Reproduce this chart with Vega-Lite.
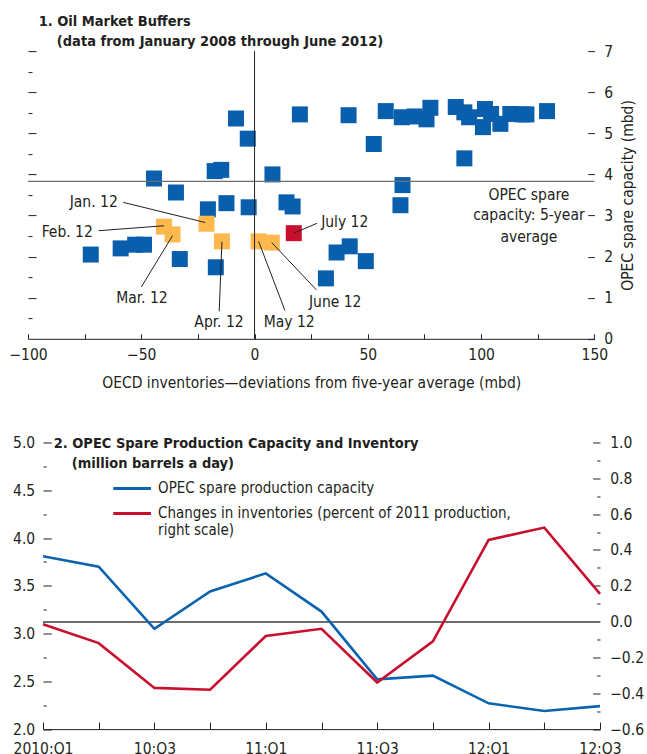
{
  "$schema": "https://vega.github.io/schema/vega-lite/v6.json",
  "padding": {"left": 8, "top": 13.1, "right": 5, "bottom": 5},
  "background": "white",
  "bounds": "flush",
  "spacing": 103.4,
  "resolve": {"scale": {"color": "independent"}, "legend": {"color": "independent"}},
  "datasets": {
    "points": [
      {"inv": -8.2, "cap": 5.36, "period": "Jan 2008–Dec 2011"},
      {"inv": 20.0, "cap": 5.46, "period": "Jan 2008–Dec 2011"},
      {"inv": -3.0, "cap": 4.87, "period": "Jan 2008–Dec 2011"},
      {"inv": -17.6, "cap": 4.08, "period": "Jan 2008–Dec 2011"},
      {"inv": -14.7, "cap": 4.11, "period": "Jan 2008–Dec 2011"},
      {"inv": -44.4, "cap": 3.90, "period": "Jan 2008–Dec 2011"},
      {"inv": 7.9, "cap": 4.00, "period": "Jan 2008–Dec 2011"},
      {"inv": -34.7, "cap": 3.56, "period": "Jan 2008–Dec 2011"},
      {"inv": -20.6, "cap": 3.15, "period": "Jan 2008–Dec 2011"},
      {"inv": -12.4, "cap": 3.30, "period": "Jan 2008–Dec 2011"},
      {"inv": -2.6, "cap": 3.20, "period": "Jan 2008–Dec 2011"},
      {"inv": 14.1, "cap": 3.32, "period": "Jan 2008–Dec 2011"},
      {"inv": 16.8, "cap": 3.22, "period": "Jan 2008–Dec 2011"},
      {"inv": -72.3, "cap": 2.05, "period": "Jan 2008–Dec 2011"},
      {"inv": -59.1, "cap": 2.20, "period": "Jan 2008–Dec 2011"},
      {"inv": -52.7, "cap": 2.29, "period": "Jan 2008–Dec 2011"},
      {"inv": -48.8, "cap": 2.29, "period": "Jan 2008–Dec 2011"},
      {"inv": -33.0, "cap": 1.94, "period": "Jan 2008–Dec 2011"},
      {"inv": -17.1, "cap": 1.74, "period": "Jan 2008–Dec 2011"},
      {"inv": 41.5, "cap": 5.44, "period": "Jan 2008–Dec 2011"},
      {"inv": 57.9, "cap": 5.54, "period": "Jan 2008–Dec 2011"},
      {"inv": 52.6, "cap": 4.74, "period": "Jan 2008–Dec 2011"},
      {"inv": 65.0, "cap": 5.39, "period": "Jan 2008–Dec 2011"},
      {"inv": 70.6, "cap": 5.41, "period": "Jan 2008–Dec 2011"},
      {"inv": 75.9, "cap": 5.34, "period": "Jan 2008–Dec 2011"},
      {"inv": 77.6, "cap": 5.62, "period": "Jan 2008–Dec 2011"},
      {"inv": 88.8, "cap": 5.64, "period": "Jan 2008–Dec 2011"},
      {"inv": 92.6, "cap": 5.51, "period": "Jan 2008–Dec 2011"},
      {"inv": 94.7, "cap": 5.39, "period": "Jan 2008–Dec 2011"},
      {"inv": 101.7, "cap": 5.59, "period": "Jan 2008–Dec 2011"},
      {"inv": 100.8, "cap": 5.15, "period": "Jan 2008–Dec 2011"},
      {"inv": 104.4, "cap": 5.47, "period": "Jan 2008–Dec 2011"},
      {"inv": 108.5, "cap": 5.23, "period": "Jan 2008–Dec 2011"},
      {"inv": 112.9, "cap": 5.47, "period": "Jan 2008–Dec 2011"},
      {"inv": 118.2, "cap": 5.46, "period": "Jan 2008–Dec 2011"},
      {"inv": 120.0, "cap": 5.46, "period": "Jan 2008–Dec 2011"},
      {"inv": 129.1, "cap": 5.54, "period": "Jan 2008–Dec 2011"},
      {"inv": 92.6, "cap": 4.39, "period": "Jan 2008–Dec 2011"},
      {"inv": 65.3, "cap": 3.74, "period": "Jan 2008–Dec 2011"},
      {"inv": 64.4, "cap": 3.25, "period": "Jan 2008–Dec 2011"},
      {"inv": 36.2, "cap": 2.10, "period": "Jan 2008–Dec 2011"},
      {"inv": 42.0, "cap": 2.25, "period": "Jan 2008–Dec 2011"},
      {"inv": 49.1, "cap": 1.89, "period": "Jan 2008–Dec 2011"},
      {"inv": 31.5, "cap": 1.47, "period": "Jan 2008–Dec 2011"},
      {"inv": -21.2, "cap": 2.80, "period": "Jan–Jun 2012"},
      {"inv": -40.0, "cap": 2.73, "period": "Jan–Jun 2012"},
      {"inv": -36.2, "cap": 2.54, "period": "Jan–Jun 2012"},
      {"inv": -14.4, "cap": 2.37, "period": "Jan–Jun 2012"},
      {"inv": 1.8, "cap": 2.37, "period": "Jan–Jun 2012"},
      {"inv": 7.6, "cap": 2.34, "period": "Jan–Jun 2012"},
      {"inv": 17.3, "cap": 2.57, "period": "Jul 2012"}
    ],
    "callouts": [
      {"label": "Jan. 12", "lx": -59.5, "ly": 3.33, "ax": -58.0, "ay": 3.32, "px": -21.8, "py": 2.83},
      {"label": "Feb. 12", "lx": -70.5, "ly": 2.60, "ax": -68.8, "ay": 2.63, "px": -40.0, "py": 2.75},
      {"label": "Mar. 12", "lx": -49.7, "ly": 1.00, "ax": -50.0, "ay": 1.26, "px": -36.2, "py": 2.51},
      {"label": "Apr. 12", "lx": -15.7, "ly": 0.40, "ax": -15.6, "ay": 0.67, "px": -14.4, "py": 2.36},
      {"label": "May 12", "lx": 15.3, "ly": 0.40, "ax": 13.4, "ay": 0.69, "px": 1.8, "py": 2.37},
      {"label": "June 12", "lx": 35.6, "ly": 0.89, "ax": 27.3, "ay": 1.19, "px": 7.6, "py": 2.34},
      {"label": "July 12", "lx": 28.5, "ly": 2.84, "ax": 27.6, "ay": 2.81, "px": 17.3, "py": 2.57}
    ],
    "note": [
      {"label": "OPEC spare", "lx": 121.1, "ly": 3.49},
      {"label": "capacity: 5-year", "lx": 121.1, "ly": 3.00},
      {"label": "average", "lx": 121.1, "ly": 2.47}
    ],
    "quarters": [
      {"quarter": "2010:Q1", "series": "OPEC spare production capacity", "value": 3.81},
      {"quarter": "10:Q2", "series": "OPEC spare production capacity", "value": 3.70},
      {"quarter": "10:Q3", "series": "OPEC spare production capacity", "value": 3.05},
      {"quarter": "10:Q4", "series": "OPEC spare production capacity", "value": 3.44},
      {"quarter": "11:Q1", "series": "OPEC spare production capacity", "value": 3.63},
      {"quarter": "11:Q2", "series": "OPEC spare production capacity", "value": 3.23},
      {"quarter": "11:Q3", "series": "OPEC spare production capacity", "value": 2.52},
      {"quarter": "11:Q4", "series": "OPEC spare production capacity", "value": 2.56},
      {"quarter": "12:Q1", "series": "OPEC spare production capacity", "value": 2.27},
      {"quarter": "12:Q2", "series": "OPEC spare production capacity", "value": 2.19},
      {"quarter": "12:Q3", "series": "OPEC spare production capacity", "value": 2.24},
      {"quarter": "2010:Q1", "series": "Changes in inventories (percent of 2011 production, right scale)", "value": -0.015},
      {"quarter": "10:Q2", "series": "Changes in inventories (percent of 2011 production, right scale)", "value": -0.12},
      {"quarter": "10:Q3", "series": "Changes in inventories (percent of 2011 production, right scale)", "value": -0.37},
      {"quarter": "10:Q4", "series": "Changes in inventories (percent of 2011 production, right scale)", "value": -0.38},
      {"quarter": "11:Q1", "series": "Changes in inventories (percent of 2011 production, right scale)", "value": -0.08},
      {"quarter": "11:Q2", "series": "Changes in inventories (percent of 2011 production, right scale)", "value": -0.04},
      {"quarter": "11:Q3", "series": "Changes in inventories (percent of 2011 production, right scale)", "value": -0.34},
      {"quarter": "11:Q4", "series": "Changes in inventories (percent of 2011 production, right scale)", "value": -0.11},
      {"quarter": "12:Q1", "series": "Changes in inventories (percent of 2011 production, right scale)", "value": 0.456},
      {"quarter": "12:Q2", "series": "Changes in inventories (percent of 2011 production, right scale)", "value": 0.525},
      {"quarter": "12:Q3", "series": "Changes in inventories (percent of 2011 production, right scale)", "value": 0.155}
    ]
  },
  "vconcat": [
    {
      "width": 557,
      "height": 287.7,
      "title": {"text": ["1. Oil Market Buffers", "\u200b\u00a0\u00a0\u00a0\u00a0(data from January 2008 through June 2012)"], "anchor": "start", "frame": "group", "dx": -4.3, "offset": -5},
      "layer": [
        {
          "data": {"name": "points"},
          "mark": {"type": "square", "size": 256, "opacity": 1, "filled": true},
          "encoding": {
            "x": {"field": "inv", "type": "quantitative", "scale": {"domain": [-100, 150], "range": [-15, 551.4], "nice": false},
              "axis": {"orient": "bottom", "values": [-100, -75, -50, -25, 0, 25, 50, 75, 100, 125, 150], "labelExpr": "datum.value % 50 === 0 ? datum.label : ''", "tickSize": -5, "labelPadding": 14, "labelOverlap": false, "labelFlush": false, "title": "OECD inventories—deviations from five-year average (mbd)", "titlePadding": 12}},
            "y": {"field": "cap", "type": "quantitative", "scale": {"domain": [0, 7], "nice": false},
              "axis": {"orient": "right", "offset": -5.6, "values": [0, 0.5, 1, 1.5, 2, 2.5, 3, 3.5, 4, 4.5, 5, 5.5, 6, 6.5, 7], "format": "d", "labelExpr": "datum.value % 1 === 0 ? datum.label : ''", "domain": false, "labelOverlap": false,
                "tickSize": {"condition": {"test": "datum.value % 1 === 0", "value": -6.7}, "value": -3.3}, "labelPadding": 16,
                "title": "OPEC spare capacity (mbd)", "titleAngle": 270, "titleBaseline": "top", "titlePadding": 8}},
            "color": {"field": "period", "type": "nominal", "scale": {"domain": ["Jan 2008–Dec 2011", "Jan–Jun 2012", "Jul 2012"], "range": ["#0a5fad", "#fdb94e", "#c8102e"]}, "legend": null}
          }
        },
        {
          "data": {"values": [{"avg": 3.83}]},
          "mark": {"type": "rule", "color": "#6d6e71", "strokeWidth": 1.4},
          "encoding": {
            "x": {"datum": -100, "type": "quantitative", "scale": {"domain": [-100, 150], "range": [-15, 551.4], "nice": false}},
            "x2": {"datum": 150},
            "y": {"field": "avg", "type": "quantitative", "scale": {"domain": [0, 7], "nice": false},
              "axis": {"orient": "left", "offset": 15, "values": [0.5, 1, 1.5, 2, 2.5, 3, 3.5, 4, 4.5, 5, 5.5, 6, 6.5, 7], "labels": false, "domain": false, "title": null,
                "tickSize": {"condition": {"test": "datum.value % 1 === 0", "value": -8}, "value": -4}}}
          }
        },
        {
          "data": {"values": [{"zero": 0}]},
          "mark": {"type": "rule", "color": "#231f20", "strokeWidth": 1},
          "encoding": {
            "x": {"field": "zero", "type": "quantitative", "scale": {"domain": [-100, 150], "range": [-15, 551.4], "nice": false}},
            "y": {"datum": 0, "type": "quantitative", "scale": {"domain": [0, 7], "nice": false}, "axis": null},
            "y2": {"datum": 7}
          }
        },
        {
          "data": {"name": "callouts"},
          "mark": {"type": "rule", "color": "#231f20", "strokeWidth": 1},
          "encoding": {
            "x": {"field": "ax", "type": "quantitative", "scale": {"domain": [-100, 150], "range": [-15, 551.4], "nice": false}},
            "y": {"field": "ay", "type": "quantitative", "scale": {"domain": [0, 7], "nice": false}, "axis": null},
            "x2": {"field": "px"},
            "y2": {"field": "py"}
          }
        },
        {
          "data": {"name": "callouts"},
          "transform": [{"filter": "indexof(['Jan. 12', 'Feb. 12'], datum.label) >= 0"}],
          "mark": {"type": "text", "align": "right", "baseline": "middle", "dx": -2},
          "encoding": {
            "x": {"field": "lx", "type": "quantitative", "scale": {"domain": [-100, 150], "range": [-15, 551.4], "nice": false}},
            "y": {"field": "ly", "type": "quantitative", "scale": {"domain": [0, 7], "nice": false}, "axis": null},
            "text": {"field": "label"}
          }
        },
        {
          "data": {"name": "callouts"},
          "transform": [{"filter": "indexof(['Mar. 12', 'Apr. 12', 'May 12', 'June 12'], datum.label) >= 0"}],
          "mark": {"type": "text", "align": "center", "baseline": "middle"},
          "encoding": {
            "x": {"field": "lx", "type": "quantitative", "scale": {"domain": [-100, 150], "range": [-15, 551.4], "nice": false}},
            "y": {"field": "ly", "type": "quantitative", "scale": {"domain": [0, 7], "nice": false}, "axis": null},
            "text": {"field": "label"}
          }
        },
        {
          "data": {"name": "callouts"},
          "transform": [{"filter": "datum.label === 'July 12'"}],
          "mark": {"type": "text", "align": "left", "baseline": "middle", "dx": 2},
          "encoding": {
            "x": {"field": "lx", "type": "quantitative", "scale": {"domain": [-100, 150], "range": [-15, 551.4], "nice": false}},
            "y": {"field": "ly", "type": "quantitative", "scale": {"domain": [0, 7], "nice": false}, "axis": null},
            "text": {"field": "label"}
          }
        },
        {
          "data": {"name": "note"},
          "mark": {"type": "text", "align": "center", "baseline": "middle"},
          "encoding": {
            "x": {"field": "lx", "type": "quantitative", "scale": {"domain": [-100, 150], "range": [-15, 551.4], "nice": false}},
            "y": {"field": "ly", "type": "quantitative", "scale": {"domain": [0, 7], "nice": false}, "axis": null},
            "text": {"field": "label"}
          }
        }
      ],
      "resolve": {"axis": {"y": "independent"}}
    },
    {
      "width": 557,
      "height": 286.6,
      "title": {"text": ["2. OPEC Spare Production Capacity and Inventory", "\u200b\u00a0\u00a0\u00a0\u00a0(million barrels a day)"], "anchor": "start", "frame": "group", "dx": 10.7, "offset": -36.4},
      "data": {"name": "quarters"},
      "layer": [
        {
          "mark": {"type": "rule", "color": "#6d6e71", "strokeWidth": 1.3},
          "encoding": {
            "y": {"datum": 0, "type": "quantitative", "scale": {"domain": [-0.6, 1.0], "nice": false}, "axis": null}
          }
        },
        {
          "transform": [{"filter": "datum.series === 'OPEC spare production capacity'"}],
          "mark": {"type": "line", "strokeWidth": 2.6},
          "encoding": {
            "x": {"field": "quarter", "type": "nominal", "scale": {"type": "point", "padding": 0, "domain": ["2010:Q1", "10:Q2", "10:Q3", "10:Q4", "11:Q1", "11:Q2", "11:Q3", "11:Q4", "12:Q1", "12:Q2", "12:Q3"]},
              "axis": {"orient": "bottom", "labelExpr": "indexof(['2010:Q1', '10:Q3', '11:Q1', '11:Q3', '12:Q1', '12:Q3'], datum.value) >= 0 ? datum.label : ''", "labelAngle": 0, "tickSize": -7, "labelPadding": 19, "labelOverlap": false, "labelFlush": false, "title": null}},
            "y": {"field": "value", "type": "quantitative", "scale": {"domain": [2, 5], "nice": false},
              "axis": {"orient": "left", "values": [2, 2.25, 2.5, 2.75, 3, 3.25, 3.5, 3.75, 4, 4.25, 4.5, 4.75, 5], "format": ".1f", "labelExpr": "(datum.value * 4) % 2 === 0 ? datum.label : ''", "domain": false, "labelOverlap": false, "title": null,
                "tickSize": {"condition": {"test": "(datum.value * 4) % 2 === 0", "value": -8.3}, "value": -3.3}, "labelPadding": 16.6}},
            "color": {"field": "series", "type": "nominal",
              "scale": {"domain": ["OPEC spare production capacity", "Changes in inventories (percent of 2011 production, right scale)"], "range": ["#0b63b0", "#c8102e"]},
              "legend": {"orient": "none", "legendX": 78.1, "legendY": 35, "title": null, "padding": 0, "symbolType": "M-2,0H2", "symbolSize": 355, "symbolStrokeWidth": 3, "labelOffset": 15, "labelLimit": 500, "rowPadding": 6, "labelFontSize": 15,
                "labelExpr": "datum.label === 'OPEC spare production capacity' ? datum.label : ['Changes in inventories (percent of 2011 production,', 'right scale)']"}}
          }
        },
        {
          "transform": [{"filter": "datum.series !== 'OPEC spare production capacity'"}],
          "mark": {"type": "line", "strokeWidth": 2.6},
          "encoding": {
            "x": {"field": "quarter", "type": "nominal", "scale": {"type": "point", "padding": 0, "domain": ["2010:Q1", "10:Q2", "10:Q3", "10:Q4", "11:Q1", "11:Q2", "11:Q3", "11:Q4", "12:Q1", "12:Q2", "12:Q3"]}},
            "y": {"field": "value", "type": "quantitative", "scale": {"domain": [-0.6, 1.0], "nice": false},
              "axis": {"orient": "right", "values": [-0.6, -0.5, -0.4, -0.3, -0.2, -0.1, 0, 0.1, 0.2, 0.3, 0.4, 0.5, 0.6, 0.7, 0.8, 0.9, 1.0], "format": ".1f", "labelExpr": "round(datum.value * 10) % 2 === 0 ? datum.label : ''", "domain": false, "labelOverlap": false, "title": null,
                "tickSize": {"condition": {"test": "round(datum.value * 10) % 2 === 0", "value": -7.3}, "value": -3.3}, "labelPadding": 17}},
            "color": {"field": "series", "type": "nominal"}
          }
        }
      ],
      "resolve": {"scale": {"y": "independent"}, "axis": {"y": "independent"}}
    }
  ],
  "config": {
    "view": {"stroke": null},
    "font": "DejaVu Sans Condensed, DejaVu Sans, sans-serif",
    "axis": {"labelFont": "DejaVu Sans Condensed, DejaVu Sans, sans-serif", "labelFontSize": 15.5, "labelColor": "#231f20", "titleFont": "DejaVu Sans Condensed, DejaVu Sans, sans-serif", "titleFontSize": 15.5, "titleFontWeight": "normal", "titleColor": "#231f20", "grid": false, "tickColor": "#231f20", "domainColor": "#231f20", "tickWidth": 1},
    "legend": {"labelFont": "DejaVu Sans Condensed, DejaVu Sans, sans-serif", "labelFontSize": 15, "labelColor": "#231f20"},
    "text": {"font": "DejaVu Sans Condensed, DejaVu Sans, sans-serif", "fontSize": 15.5, "color": "#231f20"},
    "title": {"font": "DejaVu Sans Condensed, DejaVu Sans, sans-serif", "fontSize": 14.5, "fontWeight": "bold", "color": "#231f20", "lineHeight": 20}
  }
}
